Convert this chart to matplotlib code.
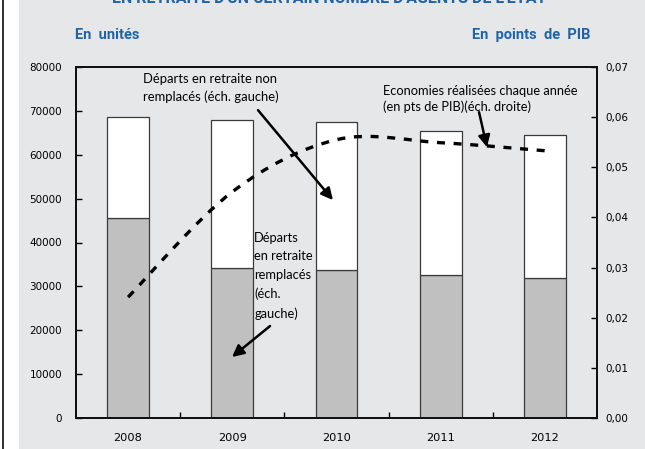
import numpy as np
import matplotlib
matplotlib.use("Agg")
import matplotlib.pyplot as plt
from matplotlib import font_manager
from matplotlib.path import Path
from matplotlib.patches import PathPatch, Rectangle

years = ["2008", "2009", "2010", "2011", "2012"]
remplaces = [45500, 34200, 33800, 32700, 32000]          # bas des barres (gris)
non_remplaces = [23000, 33700, 33600, 32700, 32500]      # haut des barres (blanc)
economies = [0.0241, 0.0451, 0.0555, 0.0549, 0.0533]     # pts de PIB, echelle droite

left_ticks = np.arange(0, 80001, 10000)
right_ticks = np.arange(0, 0.0701, 0.01)

BG = "#e6e7e9"
BLUE = "#1f63a8"
TXT = "Lato"

# police etroite pour les titres bleus si elle existe
names = {f.name for f in font_manager.fontManager.ttflist}
narrow = [f for f in ["Liberation Sans Narrow", "DejaVu Sans Condensed"] if f in names]
HDR_FONT = narrow[0] if narrow else "Roboto"


def smooth_path(xs, ys):
    """courbe lissee facon Excel (Catmull-Rom -> Bezier) a travers les points"""
    pts = np.column_stack([xs, ys]).astype(float)
    verts = [pts[0]]
    codes = [Path.MOVETO]
    n = len(pts)
    for i in range(n - 1):
        p0 = pts[max(i - 1, 0)]
        p1 = pts[i]
        p2 = pts[i + 1]
        p3 = pts[min(i + 2, n - 1)]
        c1 = p1 + (p2 - p0) / 6.0
        c2 = p2 - (p3 - p1) / 6.0
        verts += [c1, c2, p2]
        codes += [Path.CURVE4] * 3
    return Path(verts, codes)


fig = plt.figure(figsize=(6.45, 4.49), dpi=100)
fig.patch.set_facecolor(BG)

# bande blanche + filet a gauche
fig.patches.append(Rectangle((0, 0), 19 / 645, 1, transform=fig.transFigure,
                             facecolor="white", edgecolor="none", zorder=0))
fig.patches.append(Rectangle((2 / 645, 0), 2 / 645, 1, transform=fig.transFigure,
                             facecolor="#333333", edgecolor="none", zorder=1))

ax = fig.add_axes([76 / 645, 31 / 449, 521 / 645, 351 / 449])
ax.set_facecolor(BG)

x = np.arange(len(years))
w = 0.4
ax.bar(x, remplaces, w, color="#c0c0c0", edgecolor="#3a3a3a", linewidth=0.9, zorder=2)
ax.bar(x, non_remplaces, w, bottom=remplaces, color="white", edgecolor="#3a3a3a",
       linewidth=0.9, zorder=2)

ax.set_xlim(-0.5, len(years) - 0.5)
ax.set_ylim(0, 80000)
ax.set_yticks(left_ticks)
ax.set_yticklabels([str(v) for v in left_ticks])
ax.set_xticks(x)
ax.set_xticklabels(years)
ax.set_xticks(np.arange(0.5, len(years) - 1, 1), minor=True)
ax.tick_params(axis="x", which="major", length=0, pad=11, labelsize=8.2)
ax.tick_params(axis="x", which="minor", direction="in", length=4, width=1)
ax.tick_params(axis="y", direction="in", length=4, width=1, pad=10, labelsize=7.5)
for s in ax.spines.values():
    s.set_linewidth(1.4)
    s.set_color("#111111")

ax2 = ax.twinx()
ax2.set_ylim(0, 0.07)
ax2.set_yticks(right_ticks)
ax2.set_yticklabels(["{:.2f}".format(v).replace(".", ",") for v in right_ticks])
ax2.tick_params(axis="y", direction="in", length=4, width=1, pad=6, labelsize=7.5)
for s in ax2.spines.values():
    s.set_linewidth(1.4)
    s.set_color("#111111")

curve = PathPatch(smooth_path(x, economies), facecolor="none", edgecolor="black",
                  linewidth=2.4, linestyle=(0, (2.4, 2.6)), capstyle="butt", zorder=4)
ax2.add_patch(curve)

# annotations
arrow = dict(arrowstyle="-|>,head_length=0.7,head_width=0.35", color="black", lw=1.8,
             shrinkA=0, shrinkB=0)
ax.text(0.14, 78600, "Départs en retraite non\nremplacés (éch. gauche)", family=TXT,
        fontsize=9.4, va="top", ha="left", linespacing=1.55, zorder=5)
ax.annotate("", xy=(1.966, 49660), xytext=(1.247, 70160), arrowprops=arrow, zorder=5)

ax.text(2.45, 76000, "Economies réalisées chaque année\n(en pts de PIB)(éch. droite)",
        family=TXT, fontsize=9.3, va="top", ha="left", linespacing=1.4, zorder=5)
ax.annotate("", xy=(3.444, 61730), xytext=(3.368, 69700), arrowprops=arrow, zorder=5)

ax.text(1.21, 42500, "Départs\nen retraite\nremplacés\n(éch.\ngauche)", family=TXT,
        fontsize=9.3, va="top", ha="left", linespacing=1.66, zorder=5)
ax.annotate("", xy=(0.997, 13900), xytext=(1.362, 20960), arrowprops=arrow, zorder=5)

# titres bleus
hdr = dict(family=HDR_FONT, weight="bold", color=BLUE, fontsize=10.5)
fig.text(75 / 645, 1 - 39 / 449, "En  unités", ha="left", va="baseline", **hdr)
fig.text(590 / 645, 1 - 39 / 449, "En  points  de  PIB", ha="right", va="baseline", **hdr)
fig.text(0.51, 1 - 3 / 449, "EN RETRAITE D'UN CERTAIN NOMBRE D'AGENTS DE L'ETAT",
         ha="center", va="baseline", family=HDR_FONT, weight="bold", color=BLUE,
         fontsize=11.5)

fig.savefig("out.png", dpi=100, facecolor=fig.get_facecolor())
